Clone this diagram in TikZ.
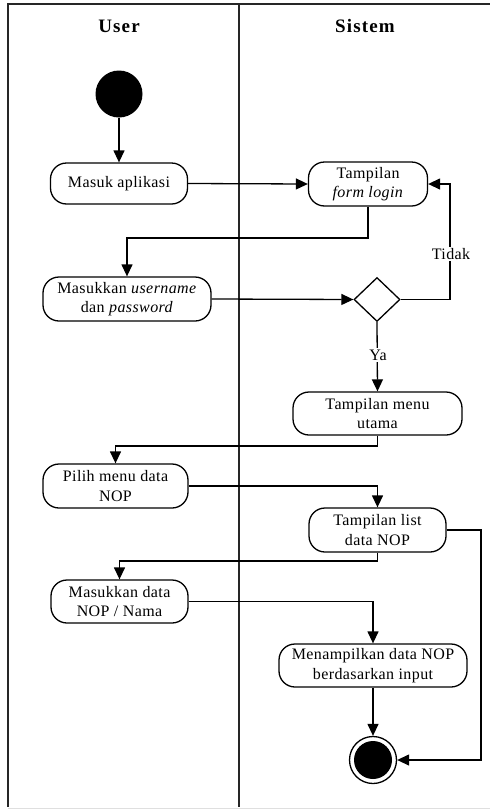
\documentclass[tikz,border=0pt]{standalone}
\usepackage{fontspec}
\setmainfont{Liberation Serif}
\newfontfamily\bodyf[LetterSpace=2.5]{Liberation Serif}
\newfontfamily\headf[LetterSpace=6]{Liberation Serif}
\usetikzlibrary{arrows.meta,shapes.geometric}
\begin{document}
\begin{tikzpicture}[x=1pt,y=-1pt,
  act/.style={draw,line width=1.3pt,rounded corners=16pt,align=center,inner sep=0pt,
    font=\bodyf\fontsize{16}{19.5}\selectfont},
  arr/.style={line width=1.3pt,-{Triangle[length=12pt,width=11pt]}},
  lbl/.style={fill=white,inner sep=1.5pt,font=\bodyf\fontsize{16}{19.5}\selectfont},
  head/.style={font=\headf\bfseries\fontsize{19}{22}\selectfont},
  frame/.style={line width=1.8pt,black!85}]
\useasboundingbox (0,0) rectangle (490,809);
% swimlanes
\draw[frame] (490,4) -- (8,4) -- (8,807);
\draw[frame] (239,4) -- (239,807);
\draw[gray!25,line width=1pt] (8,808) -- (490,808);
\node[head] (huser) at (119,26) {User};
\node[head] (hsis) at (365,26) {Sistem};
% nodes
\node[circle,fill=black,minimum size=47pt,inner sep=0pt] (start) at (119,94) {};
\node[act,minimum width=137pt,minimum height=41pt] (masuk) at (119,183.5) {Masuk aplikasi};
\node[act,minimum width=119pt,minimum height=44pt] (form) at (368,184) {Tampilan\\\textit{form login}};
\node[act,minimum width=168pt,minimum height=44pt] (user) at (127,299) {Masukkan \textit{username}\\dan \textit{password}};
\node[diamond,draw,line width=1.3pt,minimum width=46pt,minimum height=44pt,inner sep=0pt] (dec) at (377,299.5) {};
\node[act,minimum width=169pt,minimum height=43pt] (menu) at (377.5,413.5) {Tampilan menu\\utama};
\node[act,minimum width=145pt,minimum height=44pt] (pilih) at (115.5,486) {Pilih menu data\\NOP};
\node[act,minimum width=137pt,minimum height=44pt] (list) at (377.5,530) {Tampilan list\\data NOP};
\node[act,minimum width=137pt,minimum height=43pt] (cari) at (119.5,601.5) {Masukkan data\\NOP / Nama};
\node[act,minimum width=188pt,minimum height=43pt] (tampil) at (373,665.5) {Menampilkan data NOP\\berdasarkan input};
\node[circle,draw,line width=1.3pt,minimum size=47pt,inner sep=0pt] (end) at (373,760) {};
\node[circle,fill=black,minimum size=38pt,inner sep=0pt] (endin) at (end.center) {};
% helper coordinates
\coordinate (t1) at (0,238);
\coordinate (t2) at (0,446);
\coordinate (t3) at (0,561);
\coordinate (r1) at (450,0);
\coordinate (r2) at (481,0);
% connectors
\draw[arr] (start) -- (masuk);
\draw[arr] (masuk.east) -- (form.west);
\draw[arr] (form.south) -- (form.south |- t1) -| (user.north);
\draw[arr] (user.east) -- (dec.west);
\draw[arr] (dec.east) -- (dec.east -| r1) -- (form.east -| r1) -- (form.east);
\node[lbl] (tidak) at (451,254) {Tidak};
\draw[arr] (dec.south) -- (menu.north);
\node[lbl] (ya) at (378,355) {Ya};
\draw[arr] (menu.south) -- (menu.south |- t2) -| (pilih.north);
\draw[arr] (pilih.east) -| (list.north);
\draw[arr] (list.south) -- (list.south |- t3) -| (cari.north);
\draw[arr] (list.east) -- (list.east -| r2) -- (end.east -| r2) -- (end.east);
\draw[arr] (cari.east) -| (tampil.north);
\draw[arr] (tampil.south) -- (end.north);
\end{tikzpicture}
\end{document}
